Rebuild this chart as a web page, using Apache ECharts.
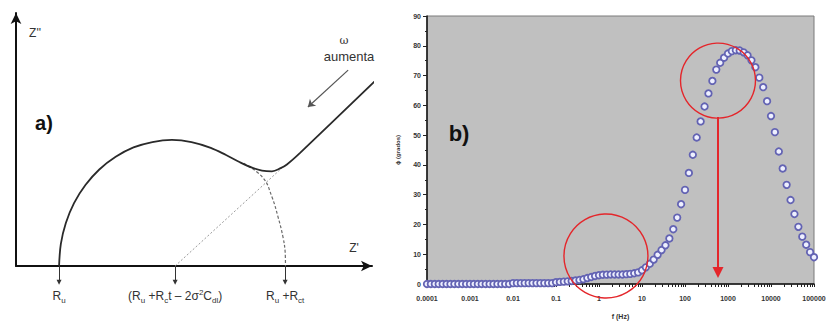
<!DOCTYPE html>
<html>
<head>
<meta charset="utf-8">
<script src="https://cdn.jsdelivr.net/npm/echarts@6.0.0/dist/echarts.min.js"></script>
<style>
  html, body { margin: 0; padding: 0; background: #ffffff; }
  #chart { width: 827px; height: 324px; }
</style>
</head>
<body>
<div id="chart"></div>
<script>
// ---------- Panel a): Nyquist sketch of a Randles cell (arbitrary Z units) ----------
// Measured-looking response: semicircle that bends into the Warburg line
const nyquistSolid = [
  [1.21, 0.00], [1.26, 0.61], [1.40, 1.19], [1.63, 1.74], [1.95, 2.24],
  [2.34, 2.67], [2.80, 3.02], [3.30, 3.28], [3.83, 3.43], [4.38, 3.49],
  [4.93, 3.43], [5.47, 3.27], [5.90, 3.07], [6.29, 2.87], [6.63, 2.72],
  [6.91, 2.64], [7.19, 2.62], [7.42, 2.70], [7.61, 2.81], [7.98, 3.13],
  [10.17, 5.20]
];
// Pure charge-transfer semicircle continued down to Ru + Rct
const circleDashed = [
  [6.40, 2.84], [6.94, 2.44], [7.19, 1.91], [7.36, 1.36], [7.50, 0.80],
  [7.56, 0.39], [7.57, 0.00]
];
// Warburg line extrapolated back to the real axis
const warburgExtrapolation = [[4.47, 0.00], [7.50, 2.74]];
// "omega increases" direction arrow
const omegaArrow = [[9.33, 5.42], [8.20, 4.40]];
// Intercepts on the Z' axis and their labels
const interceptZ = [1.21, 4.47, 7.56];
const interceptLabels = [
  'R{s|u}',
  '(R{s|u} +R{s|c}t \u2013 2\u03c3{p|2}C{s|dl})',
  'R{s|u} +R{s|ct}'
];

// ---------- Panel b): Bode phase plot ----------
const freqHz = [
  1.00e-4, 1.23e-4, 1.52e-4, 1.87e-4, 2.31e-4, 2.85e-4, 3.51e-4, 4.33e-4, 5.34e-4, 6.58e-4, 8.11e-4,
  1.00e-3, 1.23e-3, 1.52e-3, 1.87e-3, 2.31e-3, 2.85e-3, 3.51e-3, 4.33e-3, 5.34e-3, 6.58e-3, 8.11e-3,
  1.00e-2, 1.23e-2, 1.52e-2, 1.87e-2, 2.31e-2, 2.85e-2, 3.51e-2, 4.33e-2, 5.34e-2, 6.58e-2, 8.11e-2,
  1.00e-1, 1.23e-1, 1.52e-1, 1.87e-1, 2.31e-1, 2.85e-1, 3.51e-1, 4.33e-1, 5.34e-1, 6.58e-1, 8.11e-1,
  1.00e0,  1.23e0,  1.52e0,  1.87e0,  2.31e0,  2.85e0,  3.51e0,  4.33e0,  5.34e0,  6.58e0,  8.11e0,
  1.00e1,  1.23e1,  1.52e1,  1.87e1,  2.31e1,  2.85e1,  3.51e1,  4.33e1,  5.34e1,  6.58e1,  8.11e1,
  1.00e2,  1.23e2,  1.52e2,  1.87e2,  2.31e2,  2.85e2,  3.51e2,  4.33e2,  5.34e2,  6.58e2,  8.11e2,
  1.00e3,  1.23e3,  1.52e3,  1.87e3,  2.31e3,  2.85e3,  3.51e3,  4.33e3,  5.34e3,  6.58e3,  8.11e3,
  1.00e4,  1.23e4,  1.52e4,  1.87e4,  2.31e4,  2.85e4,  3.51e4,  4.33e4,  5.34e4,  6.58e4,  8.11e4,
  1.00e5
];
const phaseDeg = [
  0, 0, 0, 0, 0, 0, 0, 0, 0, 0, 0,
  0, 0, 0, 0, 0, 0, 0, 0, 0, 0, 0,
  0.3, 0.3, 0.3, 0.3, 0.3, 0.3, 0.3, 0.3, 0.3, 0.3, 0.3,
  0.6, 0.7, 0.8, 0.9, 1.0, 1.2, 1.35, 1.6, 2.0, 2.35, 2.7,
  2.95, 3.1, 3.15, 3.2, 3.2, 3.2, 3.2, 3.3, 3.4, 3.6, 3.9,
  4.6, 5.6, 6.8, 8.2, 9.8, 11.4, 13.0, 15.3, 18.4, 22.3, 26.8,
  31.6, 37.3, 43.4, 49.2, 54.6, 59.6, 64.0, 68.2, 72.0, 74.3, 76.0,
  77.4, 78.2, 78.5, 78.4, 77.8, 76.8, 75.1, 72.8, 69.3, 66.1, 61.4,
  56.4, 51.0, 44.5, 38.8, 33.3, 28.2, 23.5, 19.2, 15.9, 13.2, 10.7,
  9.0
];
const xTickLabels = ['0.0001', '0.001', '0.01', '0.1', '1', '10', '100', '1000', '10000', '100000'];
// Highlighted regions (centre: frequency, phase) and the drop from the peak
const highlightRings = [[1.45, 9.4], [585, 68.3]];
const ringRadiusPx = [42, 37.5];
const peakDrop = [[585, 56.1], [585, 3.9]];

// Log-spaced minor ticks on the frequency axis
const freqTicks = [];
for (let d = -4; d <= 5; d++) {
  freqTicks.push(Math.pow(10, d));
  if (d < 5) for (let m = 2; m <= 9; m++) freqTicks.push(+(m * Math.pow(10, d)).toPrecision(3));
}

const ink = '#2a2a2a';
const red = '#e4262b';
const richSub = {
  base: { fontFamily: 'Liberation Sans, Arial, sans-serif', fontSize: 12, color: '#333', lineHeight: 16 },
  s: { fontFamily: 'Liberation Sans, Arial, sans-serif', fontSize: 8, color: '#333', verticalAlign: 'bottom' },
  p: { fontFamily: 'Liberation Sans, Arial, sans-serif', fontSize: 8, color: '#333', verticalAlign: 'top' }
};

const chart = echarts.init(document.getElementById('chart'), null, { renderer: 'svg' });

chart.setOption({
  animation: false,
  backgroundColor: '#ffffff',
  grid: [
    { left: 16, top: 13, width: 356, height: 253, containLabel: false, outerBoundsMode: 'none' },
    { left: 427, top: 16, width: 387, height: 268, containLabel: false, outerBoundsMode: 'none',
      show: true, backgroundColor: '#c0c0c0', borderColor: '#7a7a7a', borderWidth: 1 }
  ],
  xAxis: [
    { gridIndex: 0, type: 'value', min: 0, max: 10,
      axisLine: { show: true, symbol: ['none', 'arrow'], symbolSize: [8, 11], lineStyle: { color: '#111', width: 2 } },
      axisTick: { show: false }, axisLabel: { show: false }, splitLine: { show: false } },
    { gridIndex: 1, type: 'log', logBase: 10, min: 1e-4, max: 1e5, splitNumber: 10,
      axisLine: { show: true, lineStyle: { color: '#111', width: 1.5 } },
      axisTick: { show: true, length: 3, customValues: freqTicks, lineStyle: { color: '#222', width: 1 } },
      axisLabel: { show: true, margin: 11, fontSize: 7, fontWeight: 'bold', color: '#333',
        fontFamily: 'Liberation Sans, Arial, sans-serif',
        formatter: v => xTickLabels[Math.round(Math.log10(v)) + 4] },
      splitLine: { show: false },
      name: 'f (Hz)', nameLocation: 'middle', nameGap: 29,
      nameTextStyle: { fontSize: 7, fontWeight: 'bold', color: '#333', fontFamily: 'Liberation Sans, Arial, sans-serif' } }
  ],
  yAxis: [
    { gridIndex: 0, type: 'value', min: 0, max: 7,
      axisLine: { show: true, symbol: ['none', 'arrow'], symbolSize: [8, 11], lineStyle: { color: '#111', width: 2 } },
      axisTick: { show: false }, axisLabel: { show: false }, splitLine: { show: false } },
    { gridIndex: 1, type: 'value', min: 0, max: 90, interval: 10,
      axisLine: { show: true, lineStyle: { color: '#111', width: 1.5 } },
      axisTick: { show: true, length: 4, lineStyle: { color: '#222' } },
      minorTick: { show: true, splitNumber: 2, length: 2, lineStyle: { color: '#222' } },
      axisLabel: { show: true, margin: 6, fontSize: 7, fontWeight: 'bold', color: '#333',
        fontFamily: 'Liberation Sans, Arial, sans-serif' },
      splitLine: { show: false },
      name: '\u03d5 (grados)', nameLocation: 'middle', nameGap: 26, nameRotate: 90,
      nameTextStyle: { fontSize: 6, fontWeight: 'bold', color: '#333', fontFamily: 'Liberation Sans, Arial, sans-serif' } }
  ],
  series: [
    // ----- panel a -----
    { type: 'line', xAxisIndex: 0, yAxisIndex: 0, data: warburgExtrapolation, showSymbol: false, clip: false,
      lineStyle: { color: '#9a9a9a', width: 1, type: [2, 2] }, silent: true, z: 2 },
    { type: 'line', xAxisIndex: 0, yAxisIndex: 0, data: circleDashed, smooth: 0.4, showSymbol: false, clip: false,
      lineStyle: { color: '#6a6a6a', width: 1.2, type: [3, 2] }, silent: true, z: 2 },
    { type: 'line', xAxisIndex: 0, yAxisIndex: 0, data: nyquistSolid, smooth: 0.35, showSymbol: false, clip: false,
      lineStyle: { color: ink, width: 1.8 }, silent: true, z: 3 },
    { type: 'lines', coordinateSystem: 'cartesian2d', xAxisIndex: 0, yAxisIndex: 0, clip: false, silent: true,
      data: [{ coords: omegaArrow }], symbol: ['none', 'arrow'], symbolSize: 7,
      lineStyle: { color: '#555', width: 1.2, curveness: 0, opacity: 1 } },
    { type: 'lines', coordinateSystem: 'cartesian2d', xAxisIndex: 0, yAxisIndex: 0, clip: false, silent: true,
      data: interceptZ.map(z => ({ coords: [[z, 0], [z, -0.45]] })),
      symbol: ['none', 'triangle'], symbolSize: 5,
      lineStyle: { color: '#333', width: 1, curveness: 0, opacity: 1 },
      label: { show: true, position: 'end', distance: 6,
        formatter: p => interceptLabels[p.dataIndex],
        fontFamily: 'Liberation Sans, Arial, sans-serif', fontSize: 12, color: '#333', lineHeight: 16,
        rich: richSub } },
    // ----- panel b -----
    { type: 'scatter', xAxisIndex: 1, yAxisIndex: 1, clip: false, silent: true, z: 3,
      data: freqHz.map((f, i) => [f, phaseDeg[i]]),
      symbol: 'circle', symbolSize: 6.5,
      itemStyle: { color: '#eef0ff', borderColor: '#6363b3', borderWidth: 1.8, opacity: 1 } },
    { type: 'custom', xAxisIndex: 1, yAxisIndex: 1, silent: true, clip: false, z: 4,
      data: highlightRings,
      renderItem: (params, api) => {
        const c = api.coord([api.value(0), api.value(1)]);
        return { type: 'circle', shape: { cx: c[0], cy: c[1], r: ringRadiusPx[params.dataIndex] },
          style: { fill: 'none', stroke: red, lineWidth: 1.4 } };
      } },
    { type: 'lines', coordinateSystem: 'cartesian2d', xAxisIndex: 1, yAxisIndex: 1, clip: false, silent: true, z: 4,
      data: [{ coords: peakDrop }], symbol: ['none', 'triangle'], symbolSize: 11,
      lineStyle: { color: red, width: 2, curveness: 0, opacity: 1 } }
  ],
  graphic: [
    { type: 'text', x: 35, y: 33, style: { text: "Z''", font: '12px "Liberation Sans", Arial, sans-serif', fill: '#333', align: 'center', verticalAlign: 'middle' } },
    { type: 'text', x: 354, y: 248, style: { text: "Z'", font: '12px "Liberation Sans", Arial, sans-serif', fill: '#333', align: 'center', verticalAlign: 'middle' } },
    { type: 'text', x: 344, y: 40, style: { text: '\u03c9', font: '11px "DejaVu Serif", serif', fill: '#333', align: 'center', verticalAlign: 'middle' } },
    { type: 'text', x: 349, y: 56, style: { text: 'aumenta', font: '13px "Liberation Sans", Arial, sans-serif', fill: '#333', align: 'center', verticalAlign: 'middle' } },
    { type: 'text', x: 44, y: 123, style: { text: 'a)', font: 'bold 20px "Liberation Sans", Arial, sans-serif', fill: '#111', align: 'center', verticalAlign: 'middle' } },
    { type: 'text', x: 459, y: 133, style: { text: 'b)', font: 'bold 22px "Liberation Sans", Arial, sans-serif', fill: '#111', align: 'center', verticalAlign: 'middle' } }
  ]
});
</script>
</body>
</html>
